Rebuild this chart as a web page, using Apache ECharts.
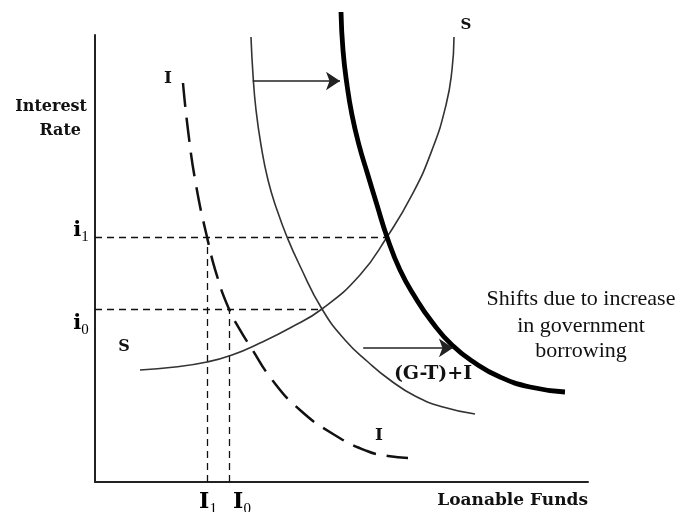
<!DOCTYPE html>
<html><head><meta charset="utf-8">
<script src="https://cdn.jsdelivr.net/npm/echarts@6/dist/echarts.min.js"></script>
<style>html,body{margin:0;padding:0;background:#fff}#c{width:680px;height:512px}</style>
</head><body><div id="c"></div>
<script>
// Curves in abstract units: x = loanable funds (0-100), y = interest rate (0-100)
const investmentI = [[17.85,89.26],[18.86,78.75],[20.49,66.44],[22.72,54.81],[24.75,46.09],[27.18,38.70],[29.41,34.01],[31.44,30.43],[36.11,22.60],[41.58,16.11],[48.28,10.74],[55.17,6.94],[59.43,5.82],[63.49,5.37]];
const demandBase = [[31.64,99.55],[32.05,91.05],[32.66,83.22],[33.67,75.39],[35.09,67.56],[36.92,60.85],[38.95,54.81],[41.58,48.32],[46.04,38.70],[50.71,31.77],[55.38,26.85],[59.84,22.82],[64.91,19.24],[70.59,16.78],[77.08,15.21]];
const demandShifted = [[49.90,105.15],[50.30,96.64],[51.12,88.81],[52.13,82.10],[53.55,75.39],[55.17,69.35],[57.20,61.97],[59.23,54.81],[61.87,47.43],[64.91,41.39],[68.36,35.79],[72.41,30.65],[77.08,26.62],[82.15,23.49],[88.24,21.25],[95.33,20.13]];
const savingS = [[9.13,25.06],[16.23,25.73],[22.72,26.85],[27.79,28.41],[33.47,31.10],[39.55,34.45],[46.04,38.70],[53.75,46.31],[59.23,54.81],[64.30,64.21],[68.36,74.27],[71.20,84.34],[72.41,92.17],[72.82,99.55]];

// Equilibrium values
const rateTickValues = [54.81, 38.70];     // i1, i0
const rateTickSubs = ['1', '0'];
const rateEquilibriumX = [59.23, 46.04];   // where each rate meets S
const fundTickValues = [22.72, 27.18];     // I1, I0
const fundTickSubs = ['1', '0'];

// Shift arrows [from x, to x, at y]
const shiftArrows = [[32.0, 49.7, 89.7], [54.4, 72.6, 30.0]];

const SERIF = '"DejaVu Serif", "Liberation Serif", serif';
const TIMES = '"Liberation Serif", "DejaVu Serif", serif';

const guideLines = [];
rateTickValues.forEach((v, k) => guideLines.push({coords: [[0, v], [rateEquilibriumX[k], v]]}));
fundTickValues.forEach((v, k) => guideLines.push({coords: [[v, 0], [v, rateTickValues[k]]]}));

const arrowLines = shiftArrows.map(a => ({coords: [[a[0], a[2]], [a[1], a[2]]]}));

const yTickOffsets = [[-14, -9], [-14, 12]];
const yTickItems = rateTickValues.map((v, k) => ({
  value: [0, v],
  label: {offset: yTickOffsets[k], formatter: '{m|i}{s|' + rateTickSubs[k] + '}'}
}));
const xTickOffsets = [[1, 18], [13, 18]];
const xTickItems = fundTickValues.map((v, k) => ({
  value: [v, 0],
  label: {offset: xTickOffsets[k], formatter: '{M|I}{s|' + fundTickSubs[k] + '}'}
}));

const richTick = {
  m: {fontFamily: SERIF, fontWeight: 'bold', fontSize: 21, color: '#000', lineHeight: 26, verticalAlign: 'bottom'},
  M: {fontFamily: SERIF, fontWeight: 'bold', fontSize: 22, color: '#000', lineHeight: 26, verticalAlign: 'bottom'},
  s: {fontFamily: TIMES, fontSize: 15, color: '#000', lineHeight: 26, verticalAlign: 'bottom', padding: [0,0,-4,0]}
};

const chart = echarts.init(document.getElementById('c'));
chart.setOption({
  animation: false,
  backgroundColor: '#fff',
  grid: {left: 95, top: 35, width: 493, height: 447},
  xAxis: {type: 'value', min: 0, max: 100, axisLine: {lineStyle: {color: '#222', width: 2}}, axisTick: {show: false}, axisLabel: {show: false}, splitLine: {show: false}},
  yAxis: {type: 'value', min: 0, max: 100, axisLine: {show: true, lineStyle: {color: '#222', width: 2}}, axisTick: {show: false}, axisLabel: {show: false}, splitLine: {show: false}},
  series: [
    {type: 'lines', coordinateSystem: 'cartesian2d', data: guideLines, symbol: 'none', lineStyle: {color: '#111', width: 1.3, type: [7, 5], opacity: 1}, z: 1},
    {type: 'line', name: 'I', data: investmentI, smooth: 0.5, symbol: 'none', lineStyle: {color: '#111', width: 2.5, type: [24, 11]}, z: 3},
    {type: 'line', name: '(G-T)+I', data: demandBase, smooth: 0.5, symbol: 'none', lineStyle: {color: '#333', width: 1.6}, z: 3},
    {type: 'line', name: 'shifted', data: demandShifted, smooth: 0.5, symbol: 'none', clip: false, lineStyle: {color: '#000', width: 4.8}, z: 4},
    {type: 'line', name: 'S', data: savingS, smooth: 0.5, symbol: 'none', lineStyle: {color: '#333', width: 1.6}, z: 3},
    {type: 'lines', coordinateSystem: 'cartesian2d', data: arrowLines, symbol: ['none', 'arrow'], symbolSize: [0, 14], lineStyle: {color: '#222', width: 1.5, opacity: 1}, z: 5},
    {type: 'scatter', data: yTickItems, symbolSize: 0, silent: true, itemStyle: {opacity: 1}, label: {show: true, position: 'inside', color: '#000', rich: richTick}, z: 6},
    {type: 'scatter', data: xTickItems, symbolSize: 0, silent: true, itemStyle: {opacity: 1}, label: {show: true, position: 'inside', color: '#000', rich: richTick}, z: 6}
  ],
  graphic: [
    {type: 'text', x: 87, y: 107, style: {text: 'Interest', font: 'bold 16px ' + SERIF, fill: '#111', align: 'right', verticalAlign: 'middle'}},
    {type: 'text', x: 81, y: 131, style: {text: 'Rate', font: 'bold 16px ' + SERIF, fill: '#111', align: 'right', verticalAlign: 'middle'}},
    {type: 'text', x: 466, y: 25, style: {text: 'S', font: 'bold 15px ' + SERIF, fill: '#111', align: 'center', verticalAlign: 'middle'}},
    {type: 'text', x: 168, y: 79, style: {text: 'I', font: 'bold 17px ' + SERIF, fill: '#111', align: 'center', verticalAlign: 'middle'}},
    {type: 'text', x: 124, y: 347, style: {text: 'S', font: 'bold 16px ' + SERIF, fill: '#111', align: 'center', verticalAlign: 'middle'}},
    {type: 'text', x: 379, y: 436, style: {text: 'I', font: 'bold 17px ' + SERIF, fill: '#111', align: 'center', verticalAlign: 'middle'}},
    {type: 'text', x: 433, y: 374, style: {text: '(G-T)+I', font: 'bold 19px ' + SERIF, fill: '#111', align: 'center', verticalAlign: 'middle'}},
    {type: 'text', x: 581, y: 299, style: {text: 'Shifts due to increase', font: '22px ' + TIMES, fill: '#111', align: 'center', verticalAlign: 'middle'}},
    {type: 'text', x: 581, y: 326, style: {text: 'in government', font: '22px ' + TIMES, fill: '#111', align: 'center', verticalAlign: 'middle'}},
    {type: 'text', x: 581, y: 351, style: {text: 'borrowing', font: '22px ' + TIMES, fill: '#111', align: 'center', verticalAlign: 'middle'}},
    {type: 'text', x: 588, y: 501, style: {text: 'Loanable Funds', font: 'bold 17px ' + SERIF, fill: '#111', align: 'right', verticalAlign: 'middle'}}
  ]
});
</script></body></html>
